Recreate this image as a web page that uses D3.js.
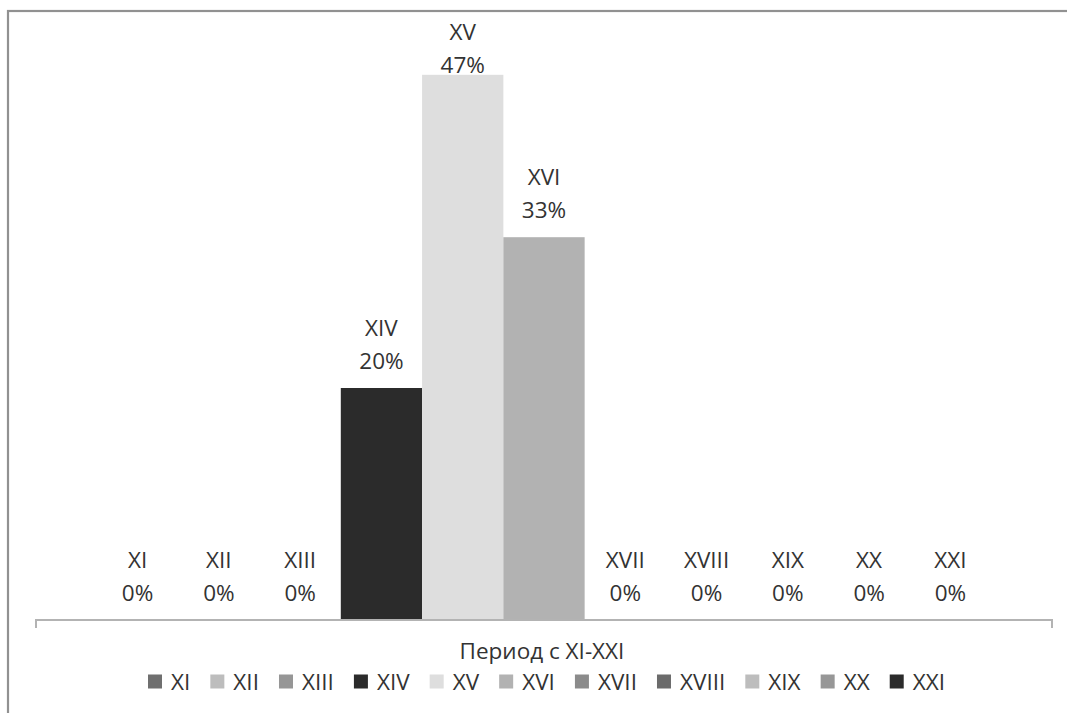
<!DOCTYPE html>
<html><head><meta charset="utf-8">
<script src="https://cdn.jsdelivr.net/npm/d3@7"></script>
<style>body{margin:0;background:#fff}svg{display:block}text{font-family:"Open Sans",sans-serif;fill:#333}</style>
</head><body>
<script>
const categories = ["XI","XII","XIII","XIV","XV","XVI","XVII","XVIII","XIX","XX","XXI"];
const values = [0,0,0,20,47,33,0,0,0,0,0];
const colors = ["#6f6f6f","#bdbdbd","#969696","#2b2b2b","#dedede","#b2b2b2","#8b8b8b","#6b6b6b","#bdbdbd","#979797","#2b2b2b"];
const axisTitle = "Период с XI-XXI";
const yMax = 50;

const W = 1067, H = 713;
const svg = d3.select("body").append("svg").attr("width", W).attr("height", H);

svg.append("rect").attr("x", 8).attr("y", 11).attr("width", 1200).attr("height", 900)
  .attr("fill", "none").attr("stroke", "#919191").attr("stroke-width", 2.2);

const plot = {left: 36, right: 1052, top: 40, bottom: 620};
const gap = 1.5;
const bw = (plot.right - plot.left) / (categories.length + gap);
const x = d3.scaleBand().domain(categories)
  .range([plot.left + bw * gap / 2, plot.right - bw * gap / 2]).padding(0);
const y = d3.scaleLinear().domain([0, yMax]).range([plot.bottom, plot.top]);

svg.append("g").selectAll("rect").data(categories).join("rect")
  .attr("x", d => x(d)).attr("width", x.bandwidth())
  .attr("y", (d, i) => y(values[i])).attr("height", (d, i) => y(0) - y(values[i]))
  .attr("fill", (d, i) => colors[i]);

const axis = svg.append("g").attr("stroke", "#b3b3b3").attr("stroke-width", 2).attr("fill", "none");
axis.append("path").attr("d", `M${plot.left},${plot.bottom + 8}V${plot.bottom}H${plot.right}V${plot.bottom + 8}`);

const FS = "22.5px";
const lab = svg.append("g").attr("text-anchor", "middle").style("font-size", FS);
categories.forEach((c, i) => {
  const cx = x(c) + x.bandwidth() / 2;
  const b2 = Math.max(y(values[i]) - 19, 73);
  lab.append("text").attr("x", cx).attr("y", b2 - 33).text(c);
  lab.append("text").attr("x", cx).attr("y", b2).text(values[i] + "%");
});

svg.append("text").attr("x", 542).attr("y", 659).attr("text-anchor", "middle")
  .style("font-size", FS).text(axisTitle);

const leg = svg.append("g").style("font-size", FS);
const sq = 14, sqGap = 9;
const items = categories.map((c, i) => {
  const g = leg.append("g");
  g.append("rect").attr("width", sq).attr("height", sq).attr("y", -sq / 2 - 0.5).attr("fill", colors[i]);
  const t = g.append("text").attr("x", sq + sqGap).attr("y", 8).text(c);
  return {g, w: sq + sqGap + t.node().getComputedTextLength()};
});
const legLeft = 148, legRight = 945;
const itemGap = (legRight - legLeft - d3.sum(items, d => d.w)) / (items.length - 1);
let lx = legLeft;
items.forEach(it => { it.g.attr("transform", `translate(${lx},682)`); lx += it.w + itemGap; });
</script>
</body></html>
